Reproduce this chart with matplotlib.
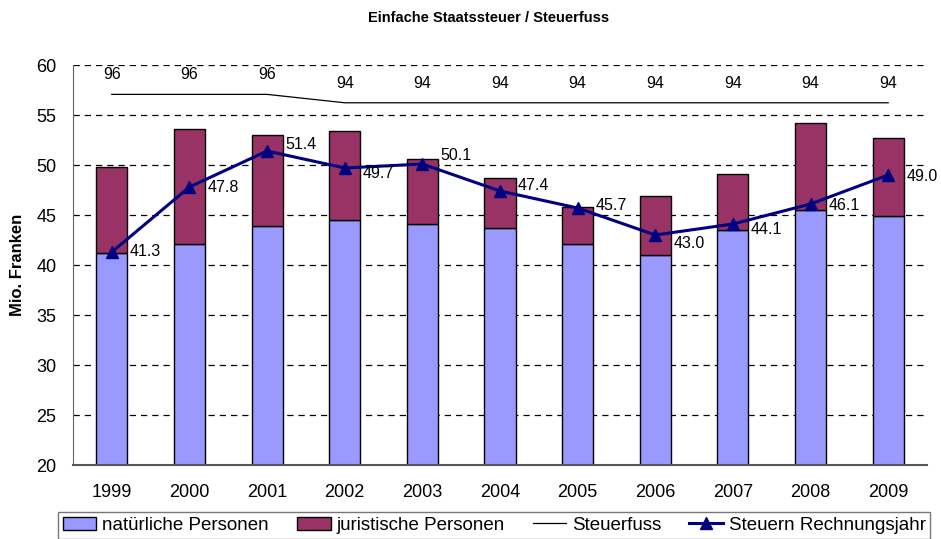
import numpy as np
import matplotlib.pyplot as plt

plt.rcParams['font.family'] = ['Liberation Sans', 'DejaVu Sans']

years = ['1999', '2000', '2001', '2002', '2003', '2004', '2005', '2006', '2007', '2008', '2009']
natuerliche = [41.2, 42.1, 43.9, 44.5, 44.1, 43.7, 42.1, 41.0, 43.5, 45.5, 44.9]
total = [49.8, 53.6, 53.0, 53.4, 50.6, 48.7, 45.8, 46.9, 49.1, 54.2, 52.7]
juristische = [t - n for t, n in zip(total, natuerliche)]
steuern = [41.3, 47.8, 51.4, 49.7, 50.1, 47.4, 45.7, 43.0, 44.1, 46.1, 49.0]
steuerfuss = [96, 96, 96, 94, 94, 94, 94, 94, 94, 94, 94]

# small vertical nudges (points) for the value labels, as in the original
label_dy = [0, 0, 5, -4, 6, 4, 2, -6, -4, -1, -1]

x = np.arange(len(years))

fig = plt.figure(figsize=(9.41, 5.39), dpi=100)
ax = fig.add_axes([73 / 941, 1 - 465 / 539, (927 - 73) / 941, 400 / 539])

b1 = ax.bar(x, natuerliche, 0.4, bottom=0, color='#9999FF', edgecolor='black',
            linewidth=1, label='natürliche Personen', zorder=2)
b2 = ax.bar(x, juristische, 0.4, bottom=natuerliche, color='#993366', edgecolor='black',
            linewidth=1, label='juristische Personen', zorder=2)
ln, = ax.plot(x, steuern, color='#000080', linewidth=2.2, marker='^', markersize=9,
              label='Steuern Rechnungsjahr', zorder=4)
for i, v in enumerate(steuern):
    ax.annotate(f'{v:.1f}', (x[i], v), xytext=(13, label_dy[i]), textcoords='offset points',
                ha='left', va='center', fontsize=11.5, zorder=5)

ax.set_ylim(20, 60)
ax.set_xlim(-0.5, len(years) - 0.5)
ax.set_yticks(np.arange(20, 61, 5))
ax.set_xticks(x)
ax.set_xticklabels(years)
ax.yaxis.grid(True, linestyle=(0, (5, 4)), color='black', linewidth=0.9, zorder=0)
ax.set_axisbelow(True)
ax.tick_params(axis='both', length=0, labelsize=13)
ax.tick_params(axis='y', pad=12)
ax.tick_params(axis='x', pad=14)
for s in ['top', 'right']:
    ax.spines[s].set_visible(False)
ax.spines['left'].set_color('#666666')
ax.spines['bottom'].set_color('#555555')
ax.spines['bottom'].set_linewidth(1.5)
ax.set_ylabel('Mio. Franken', fontsize=12, fontweight='bold', labelpad=8)

ax2 = ax.twinx()
ax2.set_ylim(7.7, 103)
sf, = ax2.plot(x, steuerfuss, color='black', linewidth=0.9, label='Steuerfuss')
for i, v in enumerate(steuerfuss):
    ax2.annotate(str(v), (x[i], v), xytext=(0, 14), textcoords='offset points',
                 ha='center', va='center', fontsize=11.5)
ax2.set_yticks([])
for s in ['top', 'right', 'left', 'bottom']:
    ax2.spines[s].set_visible(False)

fig.suptitle('Einfache Staatssteuer / Steuerfuss', x=489 / 941, y=1 - 18 / 539,
             va='center', fontsize=10.5, fontweight='bold')

leg = fig.legend([b1, b2, sf, ln], ['natürliche Personen', 'juristische Personen', 'Steuerfuss',
                                     'Steuern Rechnungsjahr'],
                 loc='upper left', bbox_to_anchor=(58 / 941, 1 - 512 / 539), ncol=4,
                 fontsize=13.5, frameon=True, fancybox=False, edgecolor='#555555',
                 handlelength=1.8, handletextpad=0.3, columnspacing=1.5, borderpad=0.25,
                 borderaxespad=0)
leg.get_frame().set_linewidth(1.0)

fig.savefig('out.png', dpi=100)
